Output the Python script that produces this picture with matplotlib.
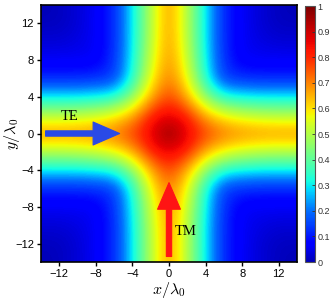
import numpy as np
import matplotlib
matplotlib.use("Agg")
import matplotlib.pyplot as plt
from matplotlib.colors import ListedColormap

# Grid sample positions (in units of lambda_0)
x_coords = [-14, -12, -10, -8, -6, -4, -2, 0, 2, 4, 6, 8, 10, 12, 14]
y_coords = [14, 12, 10, 8, 6, 4, 2, 0, -2, -4, -6, -8, -10, -12, -14]

# Normalized intensity (rows: y from +14 to -14)
intensity = [
    [0.00,0.01,0.03,0.06,0.11,0.30,0.50,0.69,0.50,0.30,0.11,0.06,0.03,0.01,0.00],
    [0.01,0.01,0.03,0.06,0.11,0.30,0.50,0.69,0.50,0.30,0.11,0.06,0.03,0.01,0.01],
    [0.03,0.03,0.04,0.06,0.11,0.30,0.51,0.69,0.51,0.30,0.11,0.06,0.04,0.03,0.03],
    [0.06,0.06,0.06,0.06,0.12,0.31,0.53,0.70,0.53,0.31,0.12,0.06,0.06,0.06,0.06],
    [0.11,0.11,0.11,0.12,0.14,0.33,0.57,0.72,0.57,0.33,0.14,0.12,0.11,0.11,0.11],
    [0.30,0.30,0.30,0.31,0.33,0.45,0.65,0.78,0.65,0.45,0.33,0.31,0.30,0.30,0.30],
    [0.50,0.50,0.51,0.53,0.57,0.65,0.81,0.86,0.81,0.65,0.57,0.53,0.51,0.50,0.50],
    [0.69,0.69,0.69,0.70,0.72,0.78,0.86,1.00,0.86,0.78,0.72,0.70,0.69,0.69,0.69],
    [0.50,0.50,0.51,0.53,0.57,0.65,0.81,0.86,0.81,0.65,0.57,0.53,0.51,0.50,0.50],
    [0.30,0.30,0.30,0.31,0.33,0.45,0.65,0.78,0.65,0.45,0.33,0.31,0.30,0.30,0.30],
    [0.11,0.11,0.11,0.12,0.14,0.33,0.57,0.72,0.57,0.33,0.14,0.12,0.11,0.11,0.11],
    [0.06,0.06,0.06,0.06,0.12,0.31,0.53,0.70,0.53,0.31,0.12,0.06,0.06,0.06,0.06],
    [0.03,0.03,0.04,0.06,0.11,0.30,0.51,0.69,0.51,0.30,0.11,0.06,0.04,0.03,0.03],
    [0.01,0.01,0.03,0.06,0.11,0.30,0.50,0.69,0.50,0.30,0.11,0.06,0.03,0.01,0.01],
    [0.00,0.01,0.03,0.06,0.11,0.30,0.50,0.69,0.50,0.30,0.11,0.06,0.03,0.01,0.00],
]

ticks_main = [-12, -8, -4, 0, 4, 8, 12]
cbar_ticks = [0, 0.1, 0.2, 0.3, 0.4, 0.5, 0.6, 0.7, 0.8, 0.9, 1]
cbar_labels = ["0", "0.1", "0.2", "0.3", "0.4", "0.5", "0.6", "0.7", "0.8", "0.9", "1"]

plt.rcParams['mathtext.fontset'] = 'cm'
plt.rcParams['font.family'] = ['Liberation Sans', 'DejaVu Sans']

# jet-like colormap matching the reference colour bar
cmap_nodes_v = [0.0, 0.1, 0.2, 0.3, 0.6, 0.7, 0.8, 0.9, 1.0]
cmap_nodes_j = [0.05, 0.15, 0.235, 0.36, 0.67, 0.77, 0.87, 0.93, 1.0]
cmap = ListedColormap(plt.get_cmap('jet')(np.interp(np.linspace(0, 1, 256), cmap_nodes_v, cmap_nodes_j)))

fig = plt.figure(figsize=(3.32, 3.01), dpi=100)
ax = fig.add_axes([41/332, 39/301, 256/332, 257/301])
cax = fig.add_axes([305/332, 39/301, 10/332, 256/301])

dx = (x_coords[1] - x_coords[0]) / 2
dy = (y_coords[0] - y_coords[1]) / 2
extent = [x_coords[0] - dx, x_coords[-1] + dx, y_coords[-1] - dy, y_coords[0] + dy]
im = ax.imshow(np.array(intensity), cmap=cmap, vmin=0, vmax=1, extent=extent,
               origin='upper', interpolation='bicubic', aspect='auto')
ax.set_xlim(-14, 14)
ax.set_ylim(-14, 14)

ax.set_xticks(ticks_main)
ax.set_yticks(ticks_main)
ax.tick_params(direction='out', length=3, width=1, labelsize=8, pad=2)
for s in ax.spines.values():
    s.set_linewidth(1.2)

ax.set_xlabel(r'$x/\lambda_0$', fontsize=11.5)
ax.set_ylabel(r'$y/\lambda_0$', fontsize=11.5)
ax.xaxis.set_label_coords(0.5, -0.07)
ax.yaxis.set_label_coords(-0.073, 0.5)

# Arrows (annotations)
ax.arrow(-13.5, 0, 8.1, 0, width=0.58, head_width=2.5, head_length=2.9,
         length_includes_head=True, color='#2a4ae6', lw=0.8, joinstyle='round', capstyle='round')
ax.arrow(0, -13.4, 0, 8.05, width=0.58, head_width=2.5, head_length=2.9,
         length_includes_head=True, color='#ff1414', lw=0.8, joinstyle='round', capstyle='round')
ax.text(-11.8, 1.85, 'TE', fontsize=10.5, family='Liberation Serif', ha='left', va='center')
ax.text(0.65, -10.7, 'TM', fontsize=10.5, family='Liberation Serif', ha='left', va='center')

cb = fig.colorbar(im, cax=cax, ticks=cbar_ticks)
cb.ax.set_yticklabels(cbar_labels)
cb.ax.tick_params(direction='in', length=2, width=0.6, labelsize=6.5, colors='#333333', pad=2)
cb.outline.set_edgecolor('#555555')
cb.outline.set_linewidth(0.8)

fig.savefig('out.png', dpi=100)
